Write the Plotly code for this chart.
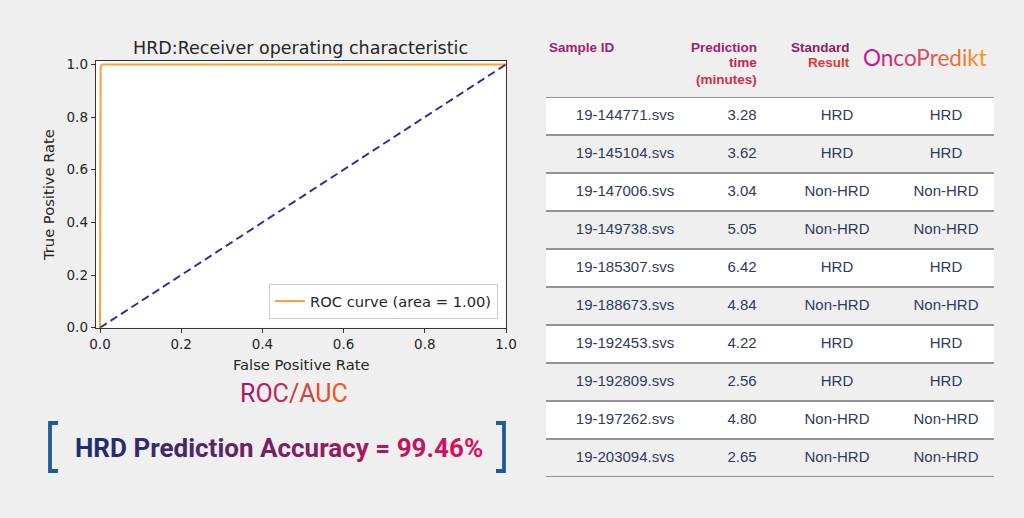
import plotly.graph_objects as go

# ---------------- data ----------------
fpr = [0.0, 0.0, 0.0015, 0.003, 0.006, 0.02, 1.0]
tpr = [0.0, 0.96, 0.985, 0.995, 1.0, 1.0, 1.0]
chance_x = [0.0, 1.0]
chance_y = [0.0, 1.0]
roc_label = "ROC curve (area = 1.00)"

x_ticks = [0.0, 0.2, 0.4, 0.6, 0.8, 1.0]
y_ticks = [0.0, 0.2, 0.4, 0.6, 0.8, 1.0]

sample_ids = ["19-144771.svs", "19-145104.svs", "19-147006.svs", "19-149738.svs",
              "19-185307.svs", "19-188673.svs", "19-192453.svs", "19-192809.svs",
              "19-197262.svs", "19-203094.svs"]
pred_time = [3.28, 3.62, 3.04, 5.05, 6.42, 4.84, 4.22, 2.56, 4.80, 2.65]
standard_result = ["HRD", "HRD", "Non-HRD", "Non-HRD", "HRD", "Non-HRD",
                   "HRD", "HRD", "Non-HRD", "Non-HRD"]
oncopredikt_result = ["HRD", "HRD", "Non-HRD", "Non-HRD", "HRD", "Non-HRD",
                      "HRD", "HRD", "Non-HRD", "Non-HRD"]
accuracy = 99.46

# ---------------- helpers ----------------
W, H = 1024, 518
BG = "#EFEFEF"


def px(x):
    return x / W


def py(y):
    return 1 - y / H


def hex2rgb(h):
    h = h.lstrip("#")
    return [int(h[i:i + 2], 16) for i in (0, 2, 4)]


def grad(text, c0, c1):
    a, b = hex2rgb(c0), hex2rgb(c1)
    n = max(len(text) - 1, 1)
    out = []
    for i, ch in enumerate(text):
        if ch == " ":
            out.append(" ")
            continue
        t = i / n
        c = [round(a[k] + (b[k] - a[k]) * t) for k in range(3)]
        out.append(f"<span style='color:rgb({c[0]},{c[1]},{c[2]})'>{ch}</span>")
    return "".join(out)


def ann(text, x, y, font, xanchor="center", yanchor="middle", **kw):
    d = dict(text=text, x=px(x), y=py(y), xref="paper", yref="paper", showarrow=False,
             xanchor=xanchor, yanchor=yanchor, font=font)
    d.update(kw)
    return d


fig = go.Figure()

# ---------------- ROC chart ----------------
fig.add_trace(go.Scatter(x=fpr, y=tpr, mode="lines", name=roc_label,
                         line=dict(color="#FF9F30", width=2), xaxis="x", yaxis="y"))
fig.add_trace(go.Scatter(x=chance_x, y=chance_y, mode="lines", showlegend=False,
                         line=dict(color="#2A2A98", width=1.9, dash="8px,4.5px"),
                         xaxis="x", yaxis="y"))

tick_font = dict(family="DejaVu Sans", size=13.5, color="#262626")
label_font = dict(family="DejaVu Sans", size=14.7, color="#262626")
fig.update_layout(
    xaxis=dict(domain=[px(95.7), px(506)], range=[-0.0106, 1.0], tickvals=x_ticks,
               ticktext=[f"{v:.1f}" for v in x_ticks], ticks="outside", ticklen=4,
               tickcolor="#333", showgrid=False, zeroline=False, showline=True,
               mirror=True, linecolor="#333", linewidth=1, tickfont=tick_font,
               anchor="y", fixedrange=True, automargin=False),
    yaxis=dict(domain=[py(327.7), py(60.7)], range=[0.0, 1.014], tickvals=y_ticks,
               ticktext=[f"{v:.1f}" for v in y_ticks], ticks="outside", ticklen=4,
               tickcolor="#333", showgrid=False, zeroline=False, showline=True,
               mirror=True, linecolor="#333", linewidth=1, tickfont=tick_font,
               anchor="x", fixedrange=True, automargin=False),
)

# ---------------- table (as xy subplot) ----------------
n = len(sample_ids)
rows = list(range(n))
col_x = {"id": 625, "time": 742, "std": 837, "onco": 946}
cell_font = dict(family="Liberation Sans, Arial", size=15, color="#2F3B58")
cols = [("id", sample_ids), ("time", [f"{v:.2f}" for v in pred_time]),
        ("std", standard_result), ("onco", oncopredikt_result)]
for key, vals in cols:
    fig.add_trace(go.Scatter(x=[col_x[key]] * n, y=rows, text=vals, mode="text",
                             textposition="middle center", textfont=cell_font,
                             showlegend=False, xaxis="x2", yaxis="y2",
                             hoverinfo="skip"))

fig.update_layout(
    xaxis2=dict(domain=[px(546), px(994)], range=[546, 994], visible=False,
                anchor="y2", fixedrange=True),
    yaxis2=dict(domain=[py(477), py(97)], range=[n - 0.5, -0.5], visible=False,
                anchor="x2", fixedrange=True),
)

shapes = []
# white plot area of the ROC chart
shapes.append(dict(type="rect", xref="x domain", yref="y domain", x0=0, x1=1, y0=0, y1=1,
                   fillcolor="white", line=dict(width=0), layer="below"))
for i in rows:
    if i % 2 == 0:
        shapes.append(dict(type="rect", xref="x2", yref="y2", x0=546, x1=994,
                           y0=i - 0.5, y1=i + 0.5, fillcolor="white",
                           line=dict(width=0), layer="below"))
for i in range(n + 1):
    shapes.append(dict(type="line", xref="x2", yref="y2", x0=546, x1=994,
                       y0=i - 0.5, y1=i - 0.5, line=dict(color="#727272", width=1.5)))

# brackets around accuracy text
BR = "#1F5A9A"
for x_v, x_s in [(50, 58), (504, 496)]:
    shapes.append(dict(type="path", xref="paper", yref="paper",
                       path=f"M {px(x_s)},{py(423)} L {px(x_v)},{py(423)} L {px(x_v)},{py(471)} L {px(x_s)},{py(471)}",
                       line=dict(color=BR, width=3.8)))

annotations = []
annotations.append(ann("HRD:Receiver operating characteristic", 300, 48,
                       dict(family="DejaVu Sans", size=17.5, color="#262626")))
annotations.append(ann("False Positive Rate", 301, 364, label_font))
annotations.append(ann("True Positive Rate", 48, 195, label_font, textangle=-90))
annotations.append(ann(grad("ROC/AUC", "#A8156F", "#F05A22"), 294, 393,
                       dict(family="Roboto", size=25)))
annotations.append(ann("<b>" + grad(f"HRD Prediction Accuracy = {accuracy:.2f}%",
                                    "#1C2E6E", "#D8125A") + "</b>", 279, 448,
                       dict(family="Roboto", size=26)))

# table header
hfont = dict(family="Liberation Sans, Arial", size=13.5)
annotations.append(ann("<b>Sample ID</b>", 547, 47, dict(color="#A2236A", **hfont),
                       xanchor="left"))
for txt, yy, col in [("Prediction", 47, "#A01F6C"), ("time", 63, "#C42452"),
                     ("(minutes)", 79, "#D23045")]:
    annotations.append(ann(f"<b>{txt}</b>", 759, yy, dict(color=col, **hfont),
                           xanchor="right"))
for txt, yy, col in [("Standard", 47, "#8E1F62"), ("Result", 63, "#DE3A3A")]:
    annotations.append(ann(f"<b>{txt}</b>", 852, yy, dict(color=col, **hfont),
                           xanchor="right"))
annotations.append(ann(grad("OncoPredikt", "#C41A8E", "#F9961C"), 925, 57,
                       dict(family="Lato", size=22.5)))

fig.update_layout(
    width=W, height=H, margin=dict(l=0, r=0, t=0, b=0, pad=0),
    paper_bgcolor=BG, plot_bgcolor=BG,
    shapes=shapes, annotations=annotations,
    legend=dict(x=px(498), y=py(319), xanchor="right", yanchor="bottom",
                bgcolor="white", bordercolor="#CCCCCC", borderwidth=1,
                font=dict(family="DejaVu Sans", size=14.7, color="#262626")),
    showlegend=True,
)

fig.write_html("out.html", config={"displayModeBar": False},
               post_script="document.body.style.margin='0';document.body.style.overflow='hidden';")
